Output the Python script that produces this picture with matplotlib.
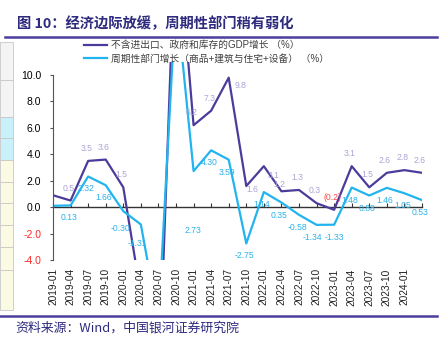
import matplotlib
matplotlib.use('Agg')
import matplotlib.pyplot as plt
from matplotlib.patches import Rectangle

plt.rcParams['font.family'] = ['Liberation Sans', 'Noto Sans CJK SC', 'DejaVu Sans']

# quarterly data, 2019-01 .. 2024-04
tick_labels = ['2019-01', '2019-04', '2019-07', '2019-10', '2020-01', '2020-04', '2020-07',
               '2020-10', '2021-01', '2021-04', '2021-07', '2021-10', '2022-01', '2022-04',
               '2022-07', '2022-10', '2023-01', '2023-04', '2023-07', '2023-10', '2024-01']
gdp_core = [0.9, 0.5, 3.5, 3.6, 1.5, -6.6, -14.4, 22.0, 6.2, 7.3, 9.8, 1.6, 3.1, 1.2,
            1.3, 0.3, -0.2, 3.1, 1.5, 2.6, 2.8, 2.6]
cyclical = [0.10, 0.13, 2.32, 1.66, -0.30, -1.31, -8.6, 16.0, 2.73, 4.30, 3.59, -2.75,
            1.14, 0.35, -0.58, -1.34, -1.33, 1.48, 0.88, 1.46, 1.05, 0.53]
gdp_labelled = [1, 2, 3, 4, 8, 9, 10, 11, 12, 13, 14, 15, 16, 17, 18, 19, 20, 21]
cyc_labelled = [1, 2, 3, 4, 5, 8, 9, 10, 11, 12, 13, 14, 15, 16, 17, 18, 19, 20, 21]

c_purple = '#4b3c9c'
c_blue = '#22b4ee'
c_purple_lbl = '#aaa4d6'
c_blue_lbl = '#2ab2ea'
c_navy = '#2e2a7e'

fig = plt.figure(figsize=(4.47, 3.41), dpi=100)

# left strip (part of a neighbouring table)
strip = [(42, 80, '#f4f4f4'), (80, 117, '#f4f4f4'), (117, 138, '#c9f1fa'),
         (138, 160, '#c9f1fa'), (160, 182, '#fbfbe4'), (182, 203, '#fbfbe4'),
         (203, 225, '#fbfbe4'), (225, 247, '#fbfbe4'), (247, 270, '#fbfbe4'),
         (270, 310, '#fbfbe4')]
for y0, y1, col in strip:
    fig.patches.append(Rectangle((0, 1 - y1 / 341), 13 / 447, (y1 - y0) / 341,
                                 transform=fig.transFigure, facecolor=col,
                                 edgecolor='#c8c8c8', linewidth=0.6))

# title + rules
fig.text(17 / 447, 1 - 24 / 341, '图 10：经济边际放缓，周期性部门稍有弱化',
         fontsize=10.3, fontweight='bold', color=c_navy, va='center',
         family=['Noto Sans CJK SC'])
fig.add_artist(plt.Line2D([5 / 447, 437 / 447], [1 - 37 / 341] * 2, color='#4a3f9f', lw=1.8))
fig.add_artist(plt.Line2D([0, 437 / 447], [1 - 316 / 341] * 2, color='#4a3f9f', lw=1.8))
fig.text(15 / 447, 1 - 328 / 341, '资料来源：Wind，中国银河证券研究院',
         fontsize=9.3, color=c_navy, va='center', family=['Noto Sans CJK SC'])

ax = fig.add_axes([53 / 447, 81 / 341, 369 / 447, 198.2 / 341])
x = list(range(len(gdp_core)))
l1, = ax.plot(x, gdp_core, color=c_purple, lw=1.6,
              label='不含进出口、政府和库存的GDP增长 （%）')
l2, = ax.plot(x, cyclical, color=c_blue, lw=1.6,
              label='周期性部门增长（商品+建筑与住宅+设备） （%）')

ax.set_xlim(0, 21)
ax.set_ylim(-4, 11)
ax.set_yticks([-4, -2, 0, 2, 4, 6, 8, 10])
ax.set_yticklabels(['-4.0', '-2.0', '0.0', '2.0', '4.0', '6.0', '8.0', '10.0'], fontsize=7.5)
for t in ax.get_yticklabels()[:2]:
    t.set_color('#ff2a2a')
ax.tick_params(axis='y', length=2, width=0.8, pad=6.5, color='#555555')
ax.set_xticks(range(len(tick_labels)))
ax.set_xticklabels(tick_labels, rotation=90, fontsize=7.3, color='#222222')
ax.tick_params(axis='x', length=0, pad=6)
for s in ['top', 'right', 'bottom']:
    ax.spines[s].set_visible(False)
ax.spines['left'].set_bounds(-4, 10)
ax.spines['left'].set_color('#555555')
ax.spines['left'].set_linewidth(0.8)

# zero axis with tick marks
zax = ax.secondary_xaxis(4 / 15)
zax.set_xticks(range(22))
zax.set_xticklabels([])
zax.tick_params(direction='in', length=3, width=0.8, color='#333333')
zax.spines['bottom'].set_color('#333333')
zax.spines['bottom'].set_linewidth(1.0)

# data labels (offsets in pixels)
gdp_off = {10: (11.5, -7.4), 11: (6, -3.4), 12: (10, -9), 13: (-2, 7)}
cyc_off = {4: (-3, -17), 5: (-3.5, -18.7), 8: (-1, -59), 15: (-4.5, -12.5), 16: (0.5, -12.5)}
for i in gdp_labelled:
    v = gdp_core[i]
    txt = '(%.1f)' % abs(v) if v < 0 else '%.1f' % v
    col = '#ff4444' if v < 0 else c_purple_lbl
    dx, dy = gdp_off.get(i, (-2, 12.5))
    ax.annotate(txt, (i, v), xytext=(dx, dy), textcoords='offset pixels',
                ha='center', va='center', fontsize=6.2, color=col)
for i in cyc_labelled:
    v = cyclical[i]
    dx, dy = cyc_off.get(i, (-2, -12.5))
    ax.annotate('%.2f' % v, (i, v), xytext=(dx, dy), textcoords='offset pixels',
                ha='center', va='center', fontsize=6.2, color=c_blue_lbl)

fig.legend(handles=[l1, l2], loc='upper left', bbox_to_anchor=(84 / 447, 1 - 40 / 341),
           frameon=False, fontsize=7, handlelength=2.4, handletextpad=0.35,
           labelspacing=0.35, borderpad=0, borderaxespad=0, labelcolor='#404040',
           prop={'family': ['Liberation Sans', 'Noto Sans CJK SC'], 'size': 7})

fig.savefig('out.png', dpi=100)
